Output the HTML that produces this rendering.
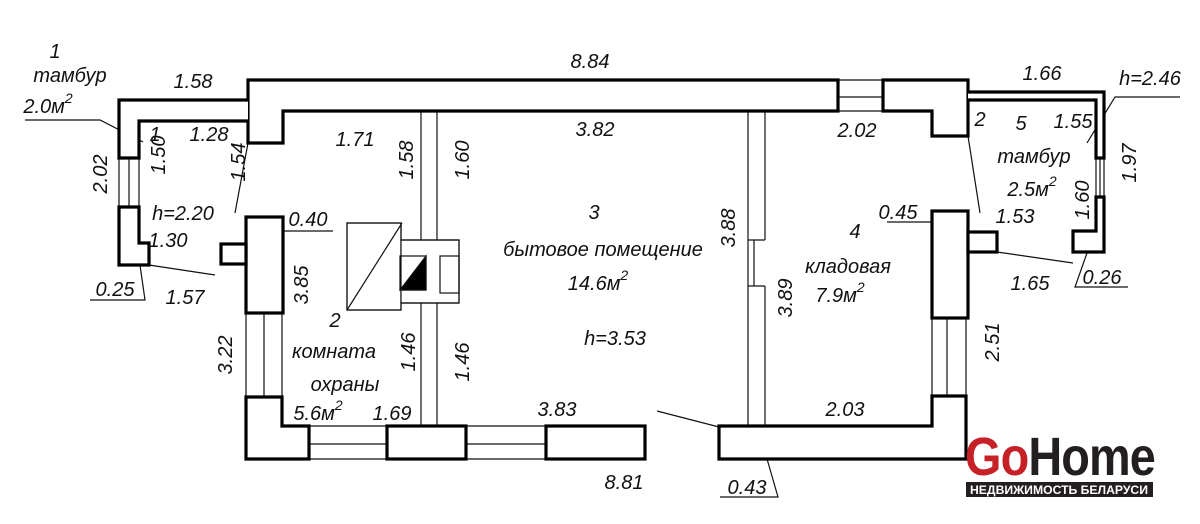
<!DOCTYPE html>
<html><head><meta charset="utf-8"><style>
html,body{margin:0;padding:0;background:#fff;width:1200px;height:524px;overflow:hidden}
svg{display:block}
text{font-family:"Liberation Sans","DejaVu Sans",sans-serif;font-style:italic;font-size:20px;fill:#111}
.t{fill:none;stroke:#111;stroke-width:1.2}
.w{fill:#fff;stroke:#000;stroke-width:3.2}
</style></head><body>
<svg width="1200" height="524" viewBox="0 0 1200 524">
<g class="t">
<line x1="421" y1="111" x2="421" y2="240"/><line x1="437" y1="111" x2="437" y2="240"/>
<line x1="421" y1="303" x2="421" y2="426"/><line x1="437" y1="303" x2="437" y2="426"/>
<line x1="748" y1="111" x2="748" y2="426"/><line x1="765" y1="111" x2="765" y2="240"/><line x1="748" y1="240" x2="765" y2="240"/>
<line x1="765" y1="286" x2="765" y2="426"/><line x1="748" y1="286" x2="765" y2="286"/><line x1="754" y1="240" x2="754" y2="286"/>
<line x1="838" y1="80" x2="883" y2="80"/><line x1="838" y1="97" x2="883" y2="97"/><line x1="838" y1="111" x2="883" y2="111"/>
<line x1="119" y1="158" x2="119" y2="207"/><line x1="129" y1="158" x2="129" y2="207"/><line x1="139" y1="158" x2="139" y2="207"/>
<line x1="1096" y1="158" x2="1096" y2="197"/><line x1="1100" y1="158" x2="1100" y2="197"/><line x1="1104" y1="158" x2="1104" y2="197"/>
<line x1="246" y1="313" x2="246" y2="397"/><line x1="264" y1="313" x2="264" y2="397"/><line x1="282" y1="313" x2="282" y2="397"/>
<line x1="932" y1="318" x2="932" y2="396"/><line x1="947" y1="318" x2="947" y2="396"/><line x1="966" y1="318" x2="966" y2="396"/>
<line x1="309" y1="426" x2="387" y2="426"/><line x1="309" y1="444" x2="387" y2="444"/><line x1="309" y1="459" x2="387" y2="459"/>
<line x1="466" y1="426" x2="546" y2="426"/><line x1="466" y1="444" x2="546" y2="444"/><line x1="466" y1="459" x2="546" y2="459"/>
<rect x="347" y="223" width="54" height="87" fill="#fff"/>
<polygon points="401,240 459,240 459,303 401,303" fill="#fff"/>
<path d="M401,240 V223 H347 V310 H401 V303 H459 V240 Z"/>
<line x1="347" y1="310" x2="402" y2="223"/>
<rect x="400" y="256" width="26" height="34"/>
<polygon points="426,256 426,290 400,290" fill="#000"/>
<rect x="440" y="256" width="19" height="37"/>
<polyline points="25,120 100,120 143,142"/>
<line x1="248" y1="143" x2="235" y2="213"/>
<line x1="149" y1="265" x2="215" y2="275"/>
<polyline points="90,300 145,300 140,265"/>
<polyline points="272,231 333,231"/>
<polyline points="887,222 947,222"/>
<line x1="968" y1="136" x2="980" y2="213"/>
<polyline points="1180,97 1115,97 1087,143"/>
<line x1="997" y1="252" x2="1073" y2="263"/>
<polyline points="1128,287 1075,287 1087,253"/>
<line x1="657" y1="411" x2="719" y2="427"/>
<polyline points="720,497 778,497 763,445"/>
</g>
<g class="w">
<path d="M838,80 H248 V143 H283 V111 H838 Z"/>
<path d="M883,80 H968 V136 H932 V111 H883 Z"/>
<path d="M968,92 H1104 V158 H1096 V100 H968"/>
<path d="M1096,197 H1104 V252 H1073 V231 H1096 Z"/>
<path d="M248,100 H119 V158 H139 V121 H248"/>
<path d="M119,207 H139 V243 H149 V265 H119 Z"/>
<rect x="246" y="217" width="37" height="96"/>
<rect x="221" y="244" width="25" height="20"/>
<path d="M246,397 H282 V426 H309 V459 H246 Z"/>
<rect x="387" y="426" width="79" height="33"/>
<rect x="546" y="426" width="99" height="33"/>
<rect x="932" y="211" width="36" height="107"/>
<rect x="968" y="232" width="29" height="20"/>
<path d="M719,426 H932 V396 H966 V459 H719 Z"/>
</g>
<g text-anchor="middle">
<text x="55" y="58">1</text><text x="70" y="82">тамбур</text><text x="48" y="113">2.0м<tspan dy="-10" font-size="14">2</tspan></text>
<text x="193" y="88">1.58</text><text x="590" y="68">8.84</text><text x="1042" y="80">1.66</text><text x="1150" y="85">h=2.46</text>
<text x="155" y="141">1</text><text x="209" y="141">1.28</text><text x="355" y="146">1.71</text><text x="595" y="136">3.82</text>
<text x="857" y="137">2.02</text><text x="980" y="126">2</text><text x="1021" y="130">5</text><text x="1073" y="128">1.55</text>
<text x="1034" y="163">тамбур</text><text x="1032" y="196">2.5м<tspan dy="-10" font-size="14">2</tspan></text><text x="1015" y="223">1.53</text>
<text x="183" y="220">h=2.20</text><text x="308" y="226">0.40</text><text x="168" y="247">1.30</text><text x="115" y="296">0.25</text><text x="185" y="304">1.57</text>
<text x="898" y="219">0.45</text><text x="855" y="238">4</text><text x="848" y="273">кладовая</text><text x="840" y="302">7.9м<tspan dy="-10" font-size="14">2</tspan></text>
<text x="1030" y="290">1.65</text><text x="1102" y="284">0.26</text>
<text x="594" y="219">3</text><text x="603" y="256">бытовое помещение</text><text x="598" y="290">14.6м<tspan dy="-10" font-size="14">2</tspan></text>
<text x="615" y="345">h=3.53</text>
<text x="335" y="327">2</text><text x="334" y="358">комната</text><text x="345" y="391">охраны</text><text x="318" y="420">5.6м<tspan dy="-10" font-size="14">2</tspan></text>
<text x="392" y="420">1.69</text><text x="557" y="416">3.83</text><text x="845" y="416">2.03</text>
<text x="624" y="489">8.81</text><text x="747" y="494">0.43</text>
<text transform="translate(107,174) rotate(-90)">2.02</text>
<text transform="translate(165,155) rotate(-90)">1.50</text>
<text transform="translate(245,162) rotate(-90)">1.54</text>
<text transform="translate(413,160) rotate(-90)">1.58</text>
<text transform="translate(469,160) rotate(-90)">1.60</text>
<text transform="translate(735,228) rotate(-90)">3.88</text>
<text transform="translate(1136,163) rotate(-90)">1.97</text>
<text transform="translate(1089,200) rotate(-90)">1.60</text>
<text transform="translate(308,285) rotate(-90)">3.85</text>
<text transform="translate(792,298) rotate(-90)">3.89</text>
<text transform="translate(232,355) rotate(-90)">3.22</text>
<text transform="translate(415,352) rotate(-90)">1.46</text>
<text transform="translate(469,362) rotate(-90)">1.46</text>
<text transform="translate(999,342) rotate(-90)">2.51</text>
</g>
<text x="965" y="475" style="font-style:normal;font-weight:bold;font-size:54px;letter-spacing:-1px" textLength="190" lengthAdjust="spacingAndGlyphs"><tspan fill="#c62127">Go</tspan><tspan fill="#231f20">Home</tspan></text>
<rect x="966" y="482" width="187" height="15" fill="#231f20"/>
<text x="1059" y="494" text-anchor="middle" style="font-style:normal;font-weight:bold;font-size:11.5px;fill:#fff" textLength="178" lengthAdjust="spacingAndGlyphs">НЕДВИЖИМОСТЬ БЕЛАРУСИ</text>
</svg>
</body></html>
